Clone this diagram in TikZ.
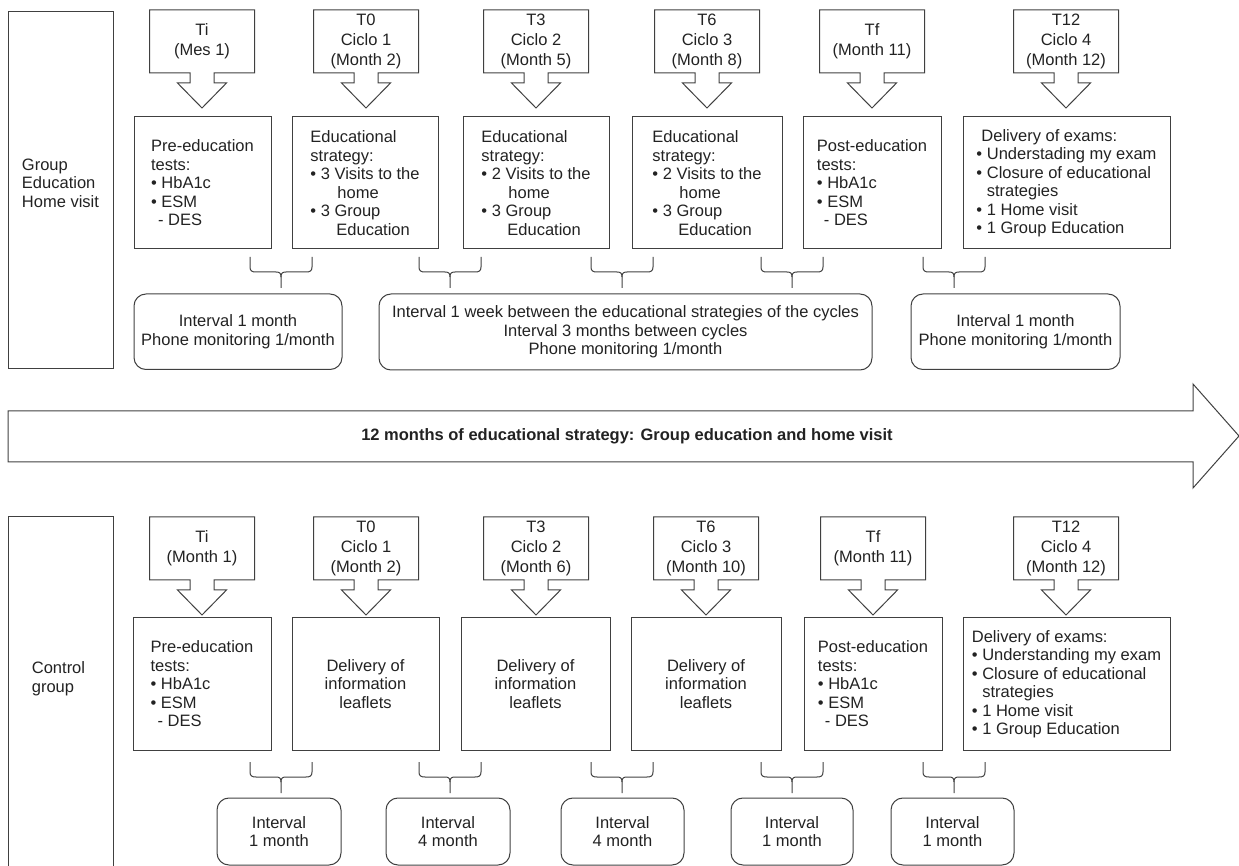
\documentclass[tikz,border=0pt]{standalone}
\usepackage{fontspec}
\setmainfont{Liberation Sans}
\usetikzlibrary{calc}
\definecolor{linec}{HTML}{404040}
\definecolor{txtc}{HTML}{222222}
\newcommand{\calloutshape}[1]{%
  \draw[lines] (#1.south west) -- (#1.north west) -- (#1.north east) -- (#1.south east)
    -- ([xshift=6pt]#1.south) -- ++(0,10) -- ++(12.5,0) -- ++(-24.5,25) -- ++(-24.5,-25)
    -- ++(12.5,0) -- ++(0,-10) -- cycle;}
\tikzset{
  pics/hbrace/.style={code={
    \draw[lines] (-31,0) -- (-31,10) .. controls (-31,14) and (-29,15) .. (-25,15) -- (-5,15)
       .. controls (-1,15) and (0,16.5) .. (0,20) -- (0,31);
    \draw[lines] (31,0) -- (31,10) .. controls (31,14) and (29,15) .. (25,15) -- (5,15)
       .. controls (1,15) and (0,16.5) .. (0,20);
  }}
}
\begin{document}
\begin{tikzpicture}[x=0.5pt,y=-0.5pt,
  every node/.style={font=\fontsize{8.25pt}{9.25pt}\selectfont, text=txtc, inner sep=0pt, outer sep=0pt},
  lines/.style={draw=linec, line width=0.5pt, line join=miter},
  sidebox/.style={lines, rectangle, minimum width=52.5pt},
  sqbox/.style={lines, rectangle, align=left, minimum height=66pt},
  cenbox/.style={lines, rectangle, align=center, minimum height=66pt},
  callout/.style={rectangle, align=center, minimum width=52.5pt, minimum height=31.5pt,
                  font=\fontsize{8.25pt}{10pt}\selectfont},
  rbox/.style={lines, rectangle, rounded corners=6pt, align=center},
  boldtxt/.style={font=\fontsize{8.25pt}{9.25pt}\selectfont\bfseries}
]
\useasboundingbox (0,0) rectangle (1239,866);
\clip (0,0) rectangle (1239,866);

% ---------------- top group ----------------
\node[sidebox, minimum height=178.5pt] (gl) at (60.5,190.5) {};
\node[align=left] (glt) at (60.5,183) {Group\\Education\\Home visit};

\node[callout] (ct1) at (202,41.5) {Ti\\(Mes 1)};
\node[callout] (ct2) at (366,41.5) {T0\\Ciclo 1\\(Month 2)};
\node[callout] (ct3) at (536,41.5) {T3\\Ciclo 2\\(Month 5)};
\node[callout] (ct4) at (707,41.5) {T6\\Ciclo 3\\(Month 8)};
\node[callout] (ct5) at (872,41.5) {Tf\\(Month 11)};
\node[callout] (ct6) at (1066,41.5) {T12\\Ciclo 4\\(Month 12)};
\foreach \c in {ct1,ct2,ct3,ct4,ct5,ct6} {\calloutshape{\c}}

\node[sqbox, minimum width=68.5pt] (bt1) at (202.5,183) {Pre-education\\tests:\\• HbA1c\\• ESM\\\hspace*{3.5pt}- DES};
\node[sqbox, minimum width=73pt] (bt2) at (365,183) {Educational\\strategy:\\• 3 Visits to the\\\hspace*{13.5pt}home\\• 3 Group\\\hspace*{13pt}Education};
\node[sqbox, minimum width=73pt] (bt3) at (536,183) {Educational\\strategy:\\• 2 Visits to the\\\hspace*{13.5pt}home\\• 3 Group\\\hspace*{13pt}Education};
\node[sqbox, minimum width=75pt] (bt4) at (707,183) {Educational\\strategy:\\• 2 Visits to the\\\hspace*{13.5pt}home\\• 3 Group\\\hspace*{13pt}Education};
\node[sqbox, minimum width=69pt] (bt5) at (872,183) {Post-education\\tests:\\• HbA1c\\• ESM\\\hspace*{3.5pt}- DES};
\node[sqbox, minimum width=103.5pt] (bt6) at (1066.5,183) {\hspace*{2.5pt}Delivery of exams:\\• Understading my exam\\• Closure of educational\\\phantom{• }strategies\\• 1 Home visit\\• 1 Group Education};

\pic (bT1) at (281,257) {hbrace};
\pic (bT2) at (450,257) {hbrace};
\pic (bT3) at (622,257) {hbrace};
\pic (bT4) at (792,257) {hbrace};
\pic (bT5) at (954,257) {hbrace};

\node[rbox, minimum width=104pt, minimum height=37.75pt] (rt1) at (238,331.75) {Interval 1 month\\Phone monitoring 1/month};
\node[rbox, minimum width=246.5pt, minimum height=38pt] (rt2) at (625.5,332) {Interval 1 week between the educational strategies of the cycles\\Interval 3 months between cycles\\Phone monitoring 1/month};
\node[rbox, minimum width=104.5pt, minimum height=37.75pt] (rt3) at (1015.5,331.75) {Interval 1 month\\Phone monitoring 1/month};

% ---------------- timeline arrow ----------------
\coordinate (a1) at (8,411);
\coordinate (a2) at (1193,411);
\coordinate (a3) at (1193,384);
\coordinate (a4) at (1239,436);
\coordinate (a5) at (1193,488);
\coordinate (a6) at (1193,462);
\coordinate (a7) at (8,462);
\draw[lines] (a1) -- (a2) -- (a3) -- (a4) -- (a5) -- (a6) -- (a7) -- cycle;
\node[boldtxt] (tl) at (627,436) {12 months of educational strategy: Group education and home visit};

% ---------------- control group ----------------
\node[sidebox, minimum height=200pt] (cl) at (60.5,717) {};
\node[align=left] (clt) at (58.5,678.5) {Control\\group};

\node[callout] (cb1) at (202,548.5) {Ti\\(Month 1)};
\node[callout] (cb2) at (366,548.5) {T0\\Ciclo 1\\(Month 2)};
\node[callout] (cb3) at (536,548.5) {T3\\Ciclo 2\\(Month 6)};
\node[callout] (cb4) at (706,548.5) {T6\\Ciclo 3\\(Month 10)};
\node[callout] (cb5) at (873,548.5) {Tf\\(Month 11)};
\node[callout] (cb6) at (1066,548.5) {T12\\Ciclo 4\\(Month 12)};
\foreach \c in {cb1,cb2,cb3,cb4,cb5,cb6} {\calloutshape{\c}}

\node[sqbox, minimum width=69pt] (bb1) at (202,684) {Pre-education\\tests:\\• HbA1c\\• ESM\\\hspace*{3.5pt}- DES};
\node[cenbox, minimum width=73.5pt] (bb2) at (365.5,684) {Delivery of\\information\\leaflets};
\node[cenbox, minimum width=74.5pt] (bb3) at (535.5,684) {Delivery of\\information\\leaflets};
\node[cenbox, minimum width=75pt] (bb4) at (706,684) {Delivery of\\information\\leaflets};
\node[sqbox, minimum width=69pt] (bb5) at (873,684) {Post-education\\tests:\\• HbA1c\\• ESM\\\hspace*{3.5pt}- DES};
\node[sqbox, minimum width=103.5pt] (bb6) at (1066.5,684) {Delivery of exams:\\• Understanding my exam\\• Closure of educational\\\phantom{• }strategies\\• 1 Home visit\\• 1 Group Education};

\pic (bB1) at (281,762) {hbrace};
\pic (bB2) at (450,762) {hbrace};
\pic (bB3) at (622,762) {hbrace};
\pic (bB4) at (792,762) {hbrace};
\pic (bB5) at (954,762) {hbrace};

\node[rbox, minimum width=62pt, minimum height=33.5pt] (rb1) at (279,831.5) {Interval\\1 month};
\node[rbox, minimum width=62pt, minimum height=33.5pt] (rb2) at (448,831.5) {Interval\\4 month};
\node[rbox, minimum width=61.5pt, minimum height=33.5pt] (rb3) at (622.5,831.5) {Interval\\4 month};
\node[rbox, minimum width=61pt, minimum height=33.5pt] (rb4) at (792,831.5) {Interval\\1 month};
\node[rbox, minimum width=61.5pt, minimum height=33.5pt] (rb5) at (952.5,831.5) {Interval\\1 month};
\end{tikzpicture}
\end{document}
